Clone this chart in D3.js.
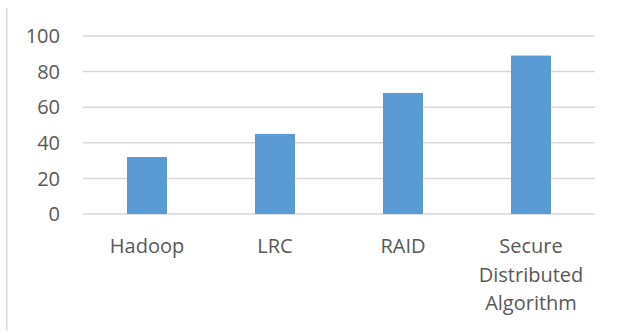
<!DOCTYPE html>
<html>
<head>
<meta charset="utf-8">
<script src="https://cdn.jsdelivr.net/npm/d3@7/dist/d3.min.js"></script>
<style>
  html, body { margin: 0; padding: 0; background: #fff; }
  svg { display: block; }
  text { font-family: "Open Sans", "Noto Sans", sans-serif; fill: #595959; }
</style>
</head>
<body>
<svg id="chart" width="618" height="331"></svg>
<script>
const categories = ["Hadoop", "LRC", "RAID", "Secure Distributed Algorithm"];
const categoryLines = [["Hadoop"], ["LRC"], ["RAID"], ["Secure", "Distributed", "Algorithm"]];
const values = [32, 45, 68, 89];
const yTicks = [0, 20, 40, 60, 80, 100];

const W = 618, H = 331;
const plot = { left: 83, right: 595, top: 36, bottom: 214 };
const svg = d3.select("#chart");

// left border line
svg.append("rect").attr("x", 6).attr("y", 8).attr("width", 1.5).attr("height", H - 8).attr("fill", "#d9d9d9");

const x = d3.scaleBand().domain(categories).range([plot.left, plot.right]).padding(0);
const y = d3.scaleLinear().domain([0, 100]).range([plot.bottom, plot.top]);

// gridlines
svg.append("g").selectAll("line").data(yTicks).join("line")
  .attr("x1", plot.left).attr("x2", plot.right)
  .attr("y1", d => y(d)).attr("y2", d => y(d))
  .attr("stroke", "#d9d9d9").attr("stroke-width", 1.5);

// y tick labels
svg.append("g").selectAll("text").data(yTicks).join("text")
  .attr("x", 60).attr("y", d => y(d)).attr("dy", "0.36em")
  .attr("text-anchor", "end").attr("font-size", 20)
  .text(d => d);

// bars
const barW = x.bandwidth() * 0.3125;
svg.append("g").selectAll("rect").data(values).join("rect")
  .attr("x", (d, i) => x(categories[i]) + (x.bandwidth() - barW) / 2)
  .attr("width", barW)
  .attr("y", d => y(d))
  .attr("height", d => y(0) - y(d))
  .attr("fill", "#5b9bd5");

// category labels
const lab = svg.append("g").selectAll("text").data(categories).join("text")
  .attr("text-anchor", "middle").attr("font-size", 20)
  .attr("transform", d => `translate(${x(d) + x.bandwidth() / 2},${plot.bottom + 39})`);
lab.each(function(d, i) {
  d3.select(this).selectAll("tspan").data(categoryLines[i]).join("tspan")
    .attr("x", 0).attr("y", (t, j) => j * 28.5).text(t => t);
});
</script>
</body>
</html>
